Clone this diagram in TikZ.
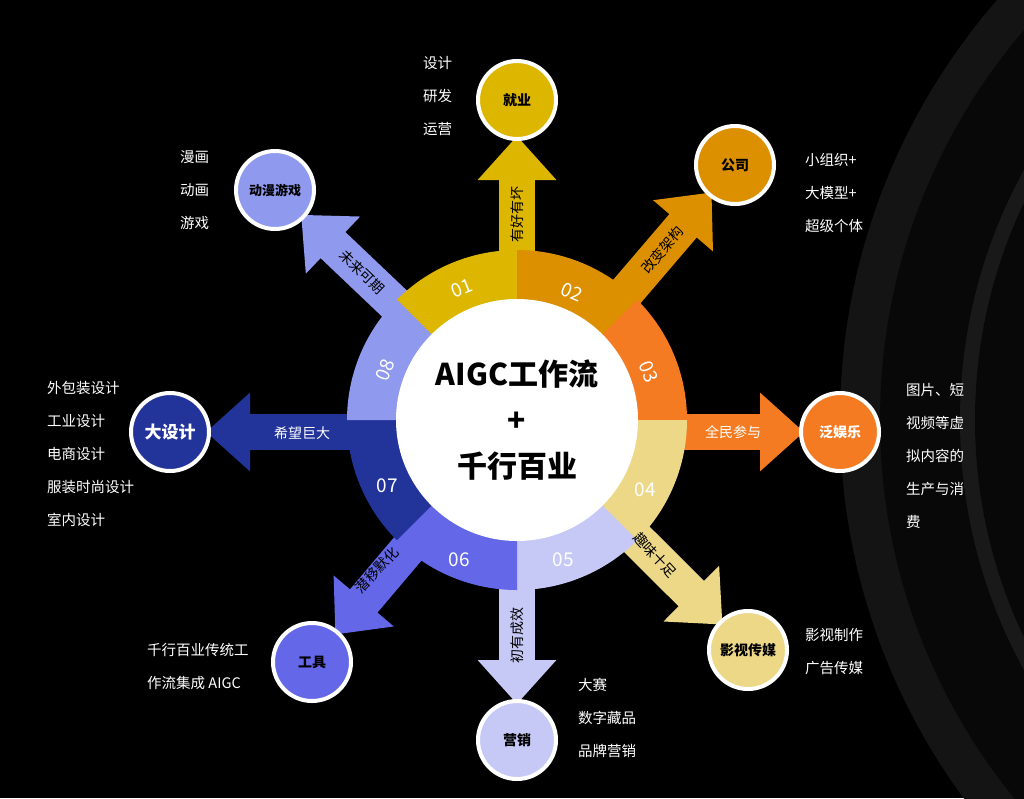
\documentclass[tikz,border=0pt]{standalone}
\usepackage{fontspec}
\setmainfont{Noto Sans CJK SC}
\usetikzlibrary{arrows.meta,calc}
\definecolor{cA}{HTML}{DDB600}
\definecolor{cB}{HTML}{DC9000}
\definecolor{cC}{HTML}{F47B22}
\definecolor{cD}{HTML}{EDD888}
\definecolor{cE}{HTML}{C6C9F6}
\definecolor{cF}{HTML}{6367E8}
\definecolor{cG}{HTML}{22339A}
\definecolor{cH}{HTML}{8F99EE}
\tikzset{
 arr/.style={line width=36pt,shorten >=36pt,-{Triangle[width=76pt,length=44pt]}},
 bub/.style={circle,draw=white,line width=4pt,minimum size=78pt,inner sep=0pt,font=\bfseries\fontsize{14}{14}\selectfont},
 side/.style={text=white,font=\fontsize{14.5}{33}\selectfont,align=left,anchor=north west,inner sep=0pt},
 alab/.style={font=\fontsize{14}{14}\selectfont,inner sep=0pt},
 num/.style={text=white,font=\fontsize{19}{19}\selectfont,inner sep=0pt}
}
\begin{document}
\begin{tikzpicture}[x=1pt,y=-1pt]
\fill[black] (0,0) rectangle (1024,798);
\useasboundingbox (0,0) rectangle (1024,798);
\begin{scope}
\clip (0,0) rectangle (1024,798);
\fill[black!92!white] (1480,420) circle[radius=640];
\fill[black!97!white] (1480,420) circle[radius=600];
\fill[black!90!white] (1480,420) circle[radius=520];
\fill[black!97!white] (1480,420) circle[radius=505];
\end{scope}
\coordinate (C) at (517,420);
\coordinate (C3) at (517,432);
\coordinate (n1) at (517,100);
\coordinate (n2) at (735,165);
\coordinate (n3) at (840,432);
\coordinate (n4) at (748,650);
\coordinate (n5) at (517,740);
\coordinate (n6) at (312,662);
\coordinate (n7) at (170,432);
\coordinate (n8) at (275,190);
\draw[arr,cA] (C) -- (n1);
\draw[arr,cB] (C) -- (n2);
\draw[arr,cC] (C3) -- (n3);
\draw[arr,cD] (C) -- (n4);
\draw[arr,cE] (C) -- (n5);
\draw[arr,cF] (C) -- (n6);
\draw[arr,cG] (C3) -- (n7);
\draw[arr,cH] (C) -- (n8);
\foreach \a/\c in {90/cA,45/cB,0/cC,-45/cD,-90/cE,-135/cF,180/cG,135/cH}{
  \fill[\c] (C) -- ++(-\a:170) arc[start angle=-\a,end angle=-\a-45,radius=170] -- cycle;
}
\fill[white] (C) circle[radius=121];
\node[align=center,inner sep=0pt,font=\bfseries\fontsize{30}{46}\selectfont] (ctr) at (C) {AIGC工作流\\+\\千行百业};
\node[num,rotate=22] (m1) at ($(C)+(-55,-132)$) {01};
\node[num,rotate=-22] (m2) at ($(C)+(55,-128)$) {02};
\node[num,rotate=-68] (m3) at ($(C)+(132,-48)$) {03};
\node[num] (m4) at ($(C)+(128,70)$) {04};
\node[num] (m5) at ($(C)+(46,140)$) {05};
\node[num] (m6) at ($(C)+(-58,140)$) {06};
\node[num] (m7) at ($(C)+(-130,66)$) {07};
\node[num,rotate=68] (m8) at ($(C)+(-132,-50)$) {08};
\node[bub,fill=cA] (b1) at (n1) {就业};
\node[bub,fill=cB] (b2) at (n2) {公司};
\node[bub,fill=cC,text=white] (b3) at (n3) {泛娱乐};
\node[bub,fill=cD] (b4) at (n4) {影视传媒};
\node[bub,fill=cE] (b5) at (n5) {营销};
\node[bub,fill=cF] (b6) at (n6) {工具};
\node[bub,fill=cG,text=white,font=\bfseries\fontsize{17}{17}\selectfont] (b7) at (n7) {大设计};
\node[bub,fill=cH,font=\bfseries\fontsize{13}{13}\selectfont] (b8) at (n8) {动漫游戏};
\node[alab,rotate=90] (l1) at (517,214) {有好有坏};
\node[alab,rotate=50] (l2) at (662,250) {改变架构};
\node[alab,text=white] (l3) at (733,432) {全民参与};
\node[alab,rotate=-47] (l4) at (655,555) {趣味十足};
\node[alab,rotate=90] (l5) at (517,635) {初有成效};
\node[alab,rotate=47] (l6) at (377,570) {潜移默化};
\node[alab,text=white] (l7) at (302,433) {希望巨大};
\node[alab,rotate=-44] (l8) at (362,272) {未来可期};
\node[side] (s1) at (423,56) {设计\\研发\\运营};
\node[side] (s2) at (805,153) {小组织+\\大模型+\\超级个体};
\node[side] (s3) at (906,383) {图片、短\\视频等虚\\拟内容的\\生产与消\\费};
\node[side] (s4) at (805,628) {影视制作\\广告传媒};
\node[side] (s5) at (578,678) {大赛\\数字藏品\\品牌营销};
\node[side] (s6) at (147,643) {千行百业传统工\\作流集成 AIGC};
\node[side] (s7) at (47,381) {外包装设计\\工业设计\\电商设计\\服装时尚设计\\室内设计};
\node[side] (s8) at (180,150) {漫画\\动画\\游戏};
\end{tikzpicture}
\end{document}
